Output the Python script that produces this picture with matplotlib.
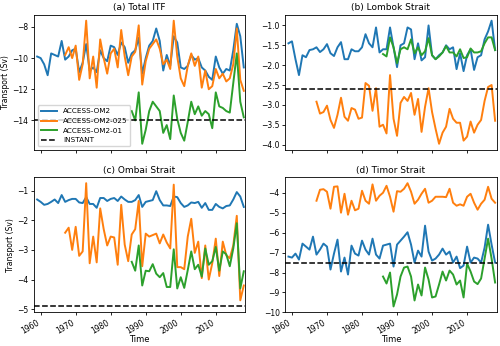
import numpy as np
import matplotlib
matplotlib.use('Agg')
import matplotlib.pyplot as plt

plt.rcParams['font.size'] = 5.5

yr_om2 = np.arange(1959, 2019)
yr_025 = np.arange(1967, 2019)
yr_01 = np.arange(1986, 2019)

# (a) Total ITF
itf_om2 = [-9.9, -10.0, -10.4, -11.1, -9.7, -9.8, -9.9, -8.9, -10.1, -9.9,
           -9.5, -9.4, -10.9, -10.3, -9.1, -10.8, -10.6, -10.9, -9.5, -10.0,
           -10.2, -9.2, -9.3, -9.8, -9.0, -9.3, -10.3, -9.7, -9.5, -8.7,
           -11.0, -10.0, -9.2, -8.9, -8.1, -8.9, -10.8, -9.8, -10.5, -8.6,
           -9.0, -10.6, -10.7, -10.5, -9.8, -10.1, -10.0, -10.6, -10.8, -11.2,
           -11.4, -9.9, -10.6, -11.0, -10.7, -10.8, -9.5, -7.8, -8.6, -10.6]
itf_025 = [-9.8, -9.3, -10.0, -9.2, -11.4, -10.4, -7.6, -11.3, -9.9, -11.9,
           -8.8, -10.0, -11.0, -9.7, -9.4, -10.6, -8.2, -9.9, -11.1, -9.9,
           -9.6, -7.9, -11.7, -10.2, -9.4, -9.1, -8.8, -9.4, -10.4, -10.1,
           -10.7, -7.6, -9.9, -11.3, -11.8, -10.5, -9.7, -10.5, -9.9, -11.9,
           -10.8, -12.0, -11.8, -10.7, -11.3, -11.0, -11.5, -11.3, -10.4, -8.1,
           -11.4, -12.1]
itf_01 = [-13.4, -14.0, -12.2, -15.5, -14.6, -13.4, -12.8, -13.1, -13.4, -14.8,
          -14.3, -15.2, -12.4, -13.9, -14.8, -15.3, -14.1, -12.8, -13.6, -13.1,
          -13.7, -13.4, -13.6, -14.5, -12.2, -13.1, -13.2, -13.4, -13.5, -11.6,
          -9.7, -12.8, -13.8]

# (b) Lombok Strait
lom_om2 = [-1.45, -1.40, -1.85, -2.25, -1.75, -1.80, -1.62, -1.60, -1.55, -1.67,
           -1.60, -1.47, -1.70, -1.77, -1.55, -1.42, -1.85, -1.85, -1.60, -1.65,
           -1.65, -1.55, -1.22, -1.45, -1.55, -1.05, -1.68, -1.60, -1.60, -1.05,
           -1.55, -2.05, -1.50, -1.45, -1.05, -1.10, -1.85, -1.45, -1.88, -1.80,
           -1.00, -1.75, -1.85, -1.75, -1.68, -1.50, -1.60, -1.55, -2.10, -1.70,
           -2.15, -1.75, -1.60, -2.12, -1.80, -1.75, -1.35, -1.15, -0.88, -1.62]
lom_025 = [-2.92, -3.22, -3.18, -3.02, -3.38, -3.58, -3.25, -2.82, -3.30, -3.40,
           -3.08, -3.12, -3.35, -3.32, -2.45, -2.52, -3.15, -2.58, -3.55, -3.50,
           -3.72, -2.25, -3.35, -3.78, -2.95, -2.80, -2.90, -2.70, -3.25, -2.85,
           -3.68, -3.05, -2.58, -3.18, -3.60, -3.98, -3.70, -3.55, -3.10, -3.35,
           -3.45, -3.45, -3.90, -3.80, -3.42, -3.70, -3.50, -3.38, -2.90, -2.55,
           -2.50, -3.40]
lom_01 = [-1.72, -1.78, -1.30, -1.55, -1.95, -1.60, -1.55, -1.60, -1.35, -1.70,
          -1.55, -1.75, -1.65, -1.32, -1.75, -1.85, -1.78, -1.68, -1.52, -1.68,
          -1.68, -1.78, -1.60, -1.82, -1.80, -1.58, -1.68, -1.68, -1.65, -1.45,
          -1.30, -1.30, -1.62]

# (c) Ombai Strait
omb_om2 = [-1.30, -1.38, -1.48, -1.45, -1.38, -1.30, -1.42, -1.15, -1.38, -1.32,
           -1.28, -1.28, -1.40, -1.42, -1.22, -1.45, -1.45, -1.58, -1.25, -1.25,
           -1.35, -1.28, -1.25, -1.35, -1.20, -1.30, -1.38, -1.38, -1.32, -1.15,
           -1.55, -1.38, -1.35, -1.32, -1.02, -1.32, -1.50, -1.50, -1.52, -1.20,
           -1.22, -1.42, -1.55, -1.50, -1.40, -1.42, -1.38, -1.58, -1.42, -1.65,
           -1.65, -1.45, -1.55, -1.60, -1.52, -1.50, -1.30, -1.05, -1.20, -1.55]
omb_025 = [-2.42, -2.25, -3.00, -2.22, -3.20, -3.05, -0.75, -3.45, -2.55, -3.42,
           -1.60, -2.30, -2.85, -2.55, -2.58, -3.50, -1.48, -2.82, -3.38, -2.48,
           -2.30, -1.35, -3.55, -2.45, -2.55, -2.50, -2.45, -2.78, -2.48, -2.75,
           -2.95, -0.80, -3.58, -3.58, -3.65, -2.55, -1.95, -3.10, -2.72, -3.95,
           -2.85, -4.00, -3.45, -2.62, -3.88, -2.72, -3.18, -3.28, -2.85, -1.85,
           -4.70, -4.20]
omb_01 = [-3.40, -3.70, -2.85, -4.20, -3.70, -3.72, -3.48, -3.80, -3.92, -3.78,
          -4.25, -4.25, -2.98, -4.30, -3.92, -4.28, -3.68, -3.05, -3.65, -3.50,
          -3.90, -2.95, -3.50, -3.38, -2.90, -3.70, -3.05, -3.15, -3.55, -2.95,
          -2.10, -4.30, -3.72]

# (d) Timor Strait
tim_om2 = [-7.20, -7.25, -7.05, -7.35, -6.55, -6.70, -6.85, -6.20, -7.10, -6.85,
           -6.55, -6.70, -7.85, -7.05, -6.35, -7.95, -7.25, -8.10, -6.65, -7.05,
           -7.15, -6.40, -6.85, -7.10, -6.30, -7.10, -7.30, -6.65, -6.60, -6.55,
           -7.70, -6.60, -6.40, -6.20, -5.98, -6.60, -7.50, -6.90, -7.20, -5.65,
           -6.95, -7.40, -7.30, -7.10, -6.80, -7.10, -6.95, -7.50, -7.20, -7.78,
           -7.65, -6.70, -7.50, -7.25, -7.30, -7.50, -6.75, -5.60, -6.60, -7.50]
tim_025 = [-4.40, -3.85, -3.82, -3.95, -4.80, -3.70, -3.68, -5.00, -4.05, -5.10,
           -4.40, -4.88, -4.80, -3.90, -4.40, -4.55, -3.58, -4.40, -4.15, -4.00,
           -3.65, -4.20, -4.95, -3.92, -3.95, -3.80, -3.52, -3.95, -4.55, -4.35,
           -4.05, -3.80, -4.50, -4.40, -4.20, -4.20, -4.20, -4.22, -3.80, -4.50,
           -4.65, -4.58, -4.65, -4.20, -4.05, -4.50, -4.85, -4.55, -4.35, -3.70,
           -4.30, -4.50]
tim_01 = [-8.20, -8.55, -8.00, -9.70, -9.10, -8.20, -7.75, -7.70, -8.20, -9.40,
          -8.60, -9.15, -7.75, -8.35, -9.25, -9.20, -8.60, -7.95, -8.40, -7.90,
          -8.10, -8.60, -8.40, -9.25, -7.55, -7.95, -8.45, -8.58, -8.30, -7.30,
          -6.30, -7.30, -8.50]

titles = ['(a) Total ITF', '(b) Lombok Strait', '(c) Ombai Strait', '(d) Timor Strait']
om2 = [itf_om2, lom_om2, omb_om2, tim_om2]
om025 = [itf_025, lom_025, omb_025, tim_025]
om01 = [itf_01, lom_01, omb_01, tim_01]
instant = [-14.0, -2.6, -4.9, -7.5]

fig, axs = plt.subplots(2, 2, sharex=True, figsize=(5, 3.46), dpi=100)
fig.subplots_adjust(left=0.068, right=0.993, top=0.958, bottom=0.097,
                    wspace=0.19, hspace=0.2)
axs = axs.flatten()

for i, ax in enumerate(axs):
    ax.plot(yr_om2, om2[i], color='tab:blue', lw=1.4, label='ACCESS-OM2')
    ax.plot(yr_025, om025[i], color='tab:orange', lw=1.4, label='ACCESS-OM2-025')
    ax.plot(yr_01, om01[i], color='tab:green', lw=1.4, label='ACCESS-OM2-01')
    ax.axhline(instant[i], color='k', ls='--', lw=1.1, label='INSTANT')
    ax.set_title(titles[i], fontsize=6.5, pad=3)
    ax.tick_params(pad=1.5, length=2.5, width=0.6)
    for s in ax.spines.values():
        s.set_linewidth(0.6)

axs[0].set_xlim(1958.1, 2018.4)
axs[0].set_xticks([1960, 1970, 1980, 1990, 2000, 2010])
axs[0].legend(loc='lower left', fontsize=5.2, handlelength=2.3)
axs[0].set_ylabel('Transport (Sv)', labelpad=1.5)
axs[2].set_ylabel('Transport (Sv)', labelpad=1.5)
axs[2].set_xlabel('Time', fontsize=6, labelpad=0)
axs[3].set_xlabel('Time', fontsize=6, labelpad=0)
axs[3].set_ylim(-10, None)
for ax in axs[2:]:
    for lab in ax.get_xticklabels():
        lab.set_rotation(30)
        lab.set_ha('right')

plt.savefig('out.png', dpi=100)
